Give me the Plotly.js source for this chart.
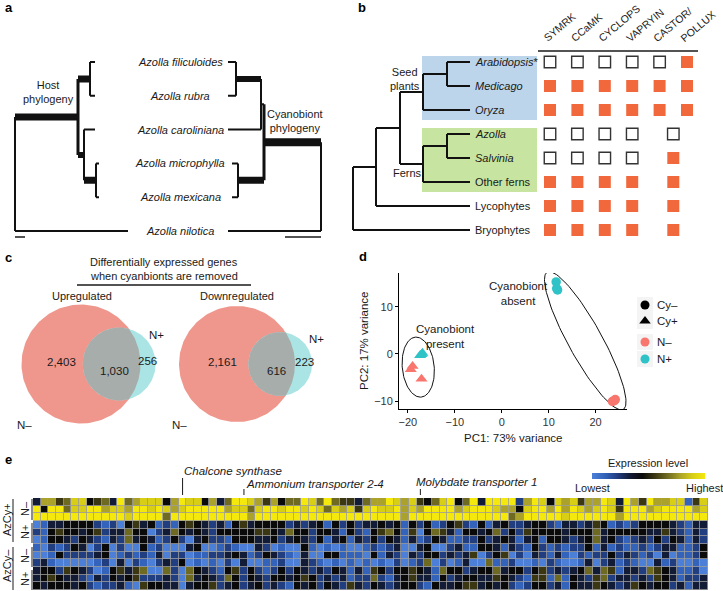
<!DOCTYPE html>
<html><head><meta charset="utf-8">
<script src="https://cdn.plot.ly/plotly-3.0.1.min.js"></script>
<style>html,body{margin:0;padding:0;background:#fff}#fig{width:723px;height:591px}</style>
</head><body><div id="fig"></div>
<script>
// ================= DATA =================
// Panel a: Azolla species, host & cyanobiont phylogenies (topology + node depths)
const azollaTaxa = ['Azolla filiculoides','Azolla rubra','Azolla caroliniana','Azolla microphylla','Azolla mexicana','Azolla nilotica'];
function leaf(i,end){return {i:i,end:end};}
const hostTree = {x:15, c:[
  {x:78, w:7, vw:3, c:[
    {x:90, w:7, c:[leaf(0,95), leaf(1,95)]},
    {x:84, w:6, c:[leaf(2,95), {x:96, w:7, c:[leaf(3,99), leaf(4,99)]}]}
  ]},
  leaf(5,128)
]};
const cyanoTree = {x:321, c:[
  {x:264, w:8, vw:3, c:[
    {x:261, w:2, c:[{x:236, w:6, c:[leaf(0,228), leaf(1,228)]}, leaf(2,228)]},
    {x:238, w:7, c:[leaf(3,232), leaf(4,232)]}
  ]},
  leaf(5,228)
]};

// Panel b: land plant lineages and symbiosis genes
const plantTaxa = ['Arabidopsis','Medicago','Oryza','Azolla','Salvinia','Other ferns','Lycophytes','Bryophytes'];
const plantItalic = [true,true,true,true,true,false,false,false];
const plantStar = [true,false,false,false,false,false,false,false];
const plantTree = {x:353, c:[
  {x:376, c:[
    {x:400, c:[
      {x:423, c:[{x:447, c:[leaf(0,470), leaf(1,470)]}, leaf(2,470)]},
      {x:423, c:[{x:447, c:[leaf(3,470), leaf(4,470)]}, leaf(5,470)]}
    ]},
    leaf(6,470)
  ]},
  leaf(7,470)
]};
const geneLabels = ['SYMRK','CCaMK','CYCLOPS','VAPRYIN','CASTOR/','POLLUX'];
const geneColumn = [0,1,2,3,4,5,4.5];   // last = merged CASTOR/POLLUX column
// 1 = present, 0 = absent, null = not shown  (SYMRK, CCaMK, CYCLOPS, VAPRYIN, CASTOR, POLLUX, CASTOR/POLLUX)
const genePresence = [
  [0,0,0,0,0,1,null],
  [1,1,1,1,1,1,null],
  [1,1,1,1,1,1,null],
  [0,0,0,0,null,null,0],
  [0,0,0,0,null,null,1],
  [1,1,1,1,null,null,1],
  [1,1,1,1,null,null,1],
  [1,1,1,1,null,null,1]
];

// Panel c: Venn counts
const vennUp   = {nMinusOnly:2403, both:1030, nPlusOnly:256};
const vennDown = {nMinusOnly:2161, both:616,  nPlusOnly:223};

// Panel d: PCA
const pcaCyMinusNPlus  = {pc1:[11.6, 11.9, 11.7],   pc2:[15.3, 13.6, 13.9]};
const pcaCyMinusNMinus = {pc1:[23.6, 24.2, 24.0],   pc2:[-10.1, -9.7, -9.9]};
const pcaCyPlusNPlus   = {pc1:[-17.4, -16.9, -17.1], pc2:[-0.3, 0.2, -0.1]};
const pcaCyPlusNMinus  = {pc1:[-19.0, -19.4, -17.1], pc2:[-2.6, -3.3, -5.3]};
// ellipses: centre (pc1,pc2), semi-axes, angle (deg)
const ellipsePresent = {cx:-17.8, cy:-2.8, a:6.4,  b:3.4, ang:95.7};
const ellipseAbsent  = {cx:17.8,  cy:2.8,  a:16.7, b:3.6, ang:119};

// Panel e: heatmap (0 = lowest/blue ... 4 = black ... 9 = highest/yellow), 12 samples x 88 genes
const heatRows = [
  '3775688456396788847988'+'4736998757466986965536'+'7798785468946939999279'+'8487857798397597788158',
  '9499688997887998987899'+'9997886899899898687858'+'9889787999978999877489'+'9797987898599978999978',
  '9999999999998999969999'+'9999997999999999999999'+'9999799999999999996799'+'9998999999799999999999',
  '0133444421204534121454'+'3231453444423234142423'+'3434142412452141342234'+'4213323541212444432133',
  '2145443452336440236434'+'3244444554364424431421'+'4564150465314434624254'+'4443444634444433532132',
  '0144324321326343124203'+'4221444334234324134132'+'4243131243112242343134'+'1443234634212324243132',
  '1021243024020041200034'+'0012100320100410101001'+'2123003400231144313214'+'2121224131211212331124',
  '0014222234012121302201'+'1223431243210300441110'+'4132032442323502450203'+'2131021224232120301124',
  '2310000012030210232401'+'0102030011200321010101'+'0102012602013006112001'+'0210013023121003120010',
  '3442543201453560062064'+'3214524212424323243131'+'5424454316442344634424'+'5232346365133265431120',
  '3454332132434522232063'+'4326424324434542323122'+'6213453314234433543215'+'5161432562332325431223',
  '4344434212231054433034'+'4523423423214342432532'+'4323442143345534342124'+'4231433543235434423133'
];
const heatGroups = [{outer:'AzCy+', inner:['N–','N+']},{outer:'AzCy–', inner:['N–','N+']}];
const geneMarks = [
  {label:'Chalcone synthase', col:19, lx:183, ly:471, t0:478},
  {label:'Ammonium transporter 2-4', col:27, lx:245, ly:484, t0:489},
  {label:'Molybdate transporter 1', col:50, lx:415, ly:482, t0:489}
];

// ================= HELPERS =================
const W=723, H=591;
const F='Liberation Sans, Arial, Helvetica, sans-serif';
const INK='#1a1a1a';
const px=x=>x/W, py=y=>1-y/H;
const traces=[], shapes=[], annotations=[];
function txt(text,x,y,o){
  o=o||{};
  const font=Object.assign({family:F,size:11,color:INK},o.font||{});
  const a=Object.assign({text:text,x:px(x),y:py(y),xref:'paper',yref:'paper',showarrow:false,xanchor:'center',yanchor:'middle',borderpad:0},o);
  a.font=font; annotations.push(a);
}
function lineP(x0,y0,x1,y1,w,c){shapes.push({type:'line',xref:'paper',yref:'paper',x0:px(x0),y0:py(y0),x1:px(x1),y1:py(y1),line:{color:c||INK,width:w||1}});}

function nY(n){return n.i!==undefined? n.i : (nY(n.c[0])+nY(n.c[n.c.length-1]))/2;}
function segs(n,out){
  if(n.i!==undefined) return out;
  const ys=n.c.map(nY);
  out.push({x0:n.x,x1:n.x,y0:Math.min.apply(null,ys),y1:Math.max.apply(null,ys),w:n.vw||2});
  n.c.forEach(function(c,k){
    out.push({x0:n.x,x1:(c.i!==undefined?c.end:c.x),y0:ys[k],y1:ys[k],w:c.w||2});
    segs(c,out);
  });
  return out;
}
function addTree(tree,xa,ya){
  const s=segs(tree,[]); const byW={};
  s.forEach(g=>{(byW[g.w]=byW[g.w]||[]).push(g);});
  Object.keys(byW).forEach(w=>{
    const xs=[],ys=[];
    byW[w].forEach(g=>{xs.push(g.x0,g.x1,null);ys.push(g.y0,g.y1,null);});
    traces.push({type:'scatter',mode:'lines',x:xs,y:ys,xaxis:xa,yaxis:ya,line:{color:'#111',width:+w},hoverinfo:'skip',showlegend:false});
  });
}

// ================= PANEL a =================
addTree(hostTree,'x','y');
addTree(cyanoTree,'x','y');
azollaTaxa.forEach((t,i)=>annotations.push({text:'<i>'+t+'</i>',x:180,y:i,xref:'x',yref:'y',showarrow:false,font:{family:F,size:11,color:INK},xanchor:'center',yanchor:'middle'}));
shapes.push({type:'line',xref:'x',yref:'y',x0:15,x1:25,y0:5.18,y1:5.18,line:{color:INK,width:1.5}});
shapes.push({type:'line',xref:'x',yref:'y',x0:285,x1:321,y0:5.18,y1:5.18,line:{color:INK,width:1.5}});
txt('Host<br>phylogeny',48,92);
txt('Cyanobiont<br>phylogeny',295,121);

// ================= PANEL b =================
const GRID_D=[538,698], GRID_R=[-12/27.4,5+11/27.4];
const colPx = c => GRID_D[0] + (c-GRID_R[0])/(GRID_R[1]-GRID_R[0])*(GRID_D[1]-GRID_D[0]);
shapes.push({type:'rect',xref:'x2',yref:'y2',x0:422,x1:537,y0:-0.25,y1:2.42,fillcolor:'#bcd5eb',line:{width:0},layer:'below'});
shapes.push({type:'rect',xref:'x2',yref:'y2',x0:422,x1:537,y0:2.75,y1:5.42,fillcolor:'#c7e5a1',line:{width:0},layer:'below'});
addTree(plantTree,'x2','y2');
plantTaxa.forEach((t,i)=>{
  let s = plantItalic[i]? '<i>'+t+'</i>' : t;
  if(plantStar[i]) s+='*';
  annotations.push({text:s,x:473,y:i,xref:'x2',yref:'y2',showarrow:false,font:{family:F,size:11,color:INK},xanchor:'left',yanchor:'middle'});
});
txt('Seed<br>plants',405,79);
txt('Ferns',407,173);
(function(){
  const fx=[],fy=[],hx=[],hy=[];
  genePresence.forEach((row,i)=>row.forEach((v,j)=>{
    if(v===null) return;
    if(v===1){fx.push(geneColumn[j]);fy.push(i);} else {hx.push(geneColumn[j]);hy.push(i);}
  }));
  traces.push({type:'scatter',mode:'markers',x:fx,y:fy,xaxis:'x3',yaxis:'y2',marker:{symbol:'square',size:12,color:'#f1683c',line:{width:0}},hoverinfo:'skip',showlegend:false});
  traces.push({type:'scatter',mode:'markers',x:hx,y:hy,xaxis:'x3',yaxis:'y2',marker:{symbol:'square',size:11.5,color:'#ffffff',line:{width:1.4,color:'#333'}},hoverinfo:'skip',showlegend:false});
})();
geneLabels.forEach((g,j)=>annotations.push({text:g,x:px(colPx(geneColumn[j])-10),y:py(45),xref:'paper',yref:'paper',showarrow:false,textangle:-40,xanchor:'left',yanchor:'bottom',borderpad:0,font:{family:F,size:10.5,color:INK}}));
lineP(538,51,698,51,1.5);

// ================= PANEL c =================
txt('Differentially expressed genes',164,262);
txt('when cyanbionts are removed',164,276);
lineP(77,285,251,285,1.3);
txt('Upregulated',82,296);
txt('Downregulated',237,296);
function lensArea(R,r,d){
  if(d>=R+r) return 0;
  if(d<=Math.abs(R-r)) return Math.PI*Math.min(R,r)**2;
  const a1=r*r*Math.acos((d*d+r*r-R*R)/(2*d*r));
  const a2=R*R*Math.acos((d*d+R*R-r*r)/(2*d*R));
  const a3=0.5*Math.sqrt((-d+r+R)*(d+r-R)*(d-r+R)*(d+r+R));
  return a1+a2-a3;
}
function venn(v,cx,cy,R,labels){
  const nMinus=v.nMinusOnly+v.both, nPlus=v.nPlusOnly+v.both;
  const r=R*Math.sqrt(nPlus/nMinus);
  const target=v.both/nMinus*Math.PI*R*R;
  let lo=Math.abs(R-r)+1e-6, hi=R+r-1e-6;
  for(let k=0;k<80;k++){const m=(lo+hi)/2; if(lensArea(R,r,m)>target) lo=m; else hi=m;}
  const d=(lo+hi)/2;
  const N=180;
  function circ(x0,y0,rr){const xs=[],ys=[];for(let k=0;k<=N;k++){const t=2*Math.PI*k/N;xs.push(x0+rr*Math.cos(t));ys.push(y0+rr*Math.sin(t));}return [xs,ys];}
  const c1=circ(cx,cy,R), c2=circ(cx+d,cy,r);
  traces.push({type:'scatter',mode:'lines',x:c1[0],y:c1[1],xaxis:'x4',yaxis:'y4',fill:'toself',fillcolor:'#ef978c',line:{width:0,color:'rgba(0,0,0,0)'},hoverinfo:'skip',showlegend:false});
  traces.push({type:'scatter',mode:'lines',x:c2[0],y:c2[1],xaxis:'x4',yaxis:'y4',fill:'toself',fillcolor:'#abe4e4',line:{width:0,color:'rgba(0,0,0,0)'},hoverinfo:'skip',showlegend:false});
  const a=(d*d+R*R-r*r)/(2*d), h=Math.sqrt(R*R-a*a);
  const t1=Math.atan2(h,a), t2=Math.atan2(h,d-a);
  const lx=[],ly=[];
  for(let k=0;k<=60;k++){const t=-t1+2*t1*k/60;lx.push(cx+R*Math.cos(t));ly.push(cy+R*Math.sin(t));}
  for(let k=0;k<=60;k++){const t=Math.PI-t2+2*t2*k/60;lx.push(cx+d+r*Math.cos(t));ly.push(cy+r*Math.sin(t));}
  traces.push({type:'scatter',mode:'lines',x:lx,y:ly,xaxis:'x4',yaxis:'y4',fill:'toself',fillcolor:'#a7adaa',line:{width:0,color:'rgba(0,0,0,0)'},hoverinfo:'skip',showlegend:false});
  const fmt=n=>n.toLocaleString('en-US');
  txt(fmt(v.nMinusOnly),labels.m[0],labels.m[1],{font:{size:11.5}});
  txt(fmt(v.both),labels.b[0],labels.b[1],{font:{size:11.5}});
  txt(fmt(v.nPlusOnly),labels.p[0],labels.p[1],{font:{size:11.5}});
  txt('N+',labels.np[0],labels.np[1],{font:{size:11.5}});
  txt('N–',labels.nm[0],labels.nm[1],{font:{size:11.5}});
}
venn(vennUp,81,364,59.5,{m:[61,362],b:[114,371],p:[147,361],np:[156,335],nm:[24,425]});
venn(vennDown,237,364,58,{m:[222,362],b:[276,371],p:[304,362],np:[316,339],nm:[179,425]});

// ================= PANEL d =================
const RED='#F8766D', CYAN='#2fc3c7';
function ell(e){const xs=[],ys=[],th=e.ang*Math.PI/180;for(let k=0;k<=120;k++){const t=2*Math.PI*k/120;const u=e.a*Math.cos(t),v=e.b*Math.sin(t);xs.push(e.cx+u*Math.cos(th)-v*Math.sin(th));ys.push(e.cy+u*Math.sin(th)+v*Math.cos(th));}return {xs,ys};}
[ellipsePresent,ellipseAbsent].forEach(e=>{const p=ell(e);traces.push({type:'scatter',mode:'lines',x:p.xs,y:p.ys,xaxis:'x5',yaxis:'y5',line:{color:'#111',width:1},hoverinfo:'skip',showlegend:false,cliponaxis:false});});
function pts(d,sym,col){traces.push({type:'scatter',mode:'markers',x:d.pc1,y:d.pc2,xaxis:'x5',yaxis:'y5',marker:{symbol:sym,size:sym==='circle'?9.5:10.5,color:col,line:{width:0}},hoverinfo:'skip',showlegend:false,cliponaxis:false});}
pts(pcaCyMinusNPlus,'circle',CYAN);
pts(pcaCyMinusNMinus,'circle',RED);
pts(pcaCyPlusNPlus,'triangle-up',CYAN);
pts(pcaCyPlusNMinus,'triangle-up',RED);
txt('PC1: 73% variance',513,438,{font:{size:11.5}});
txt('PC2: 17% variance',364,341,{textangle:-90,font:{size:11.5}});
txt('Cyanobiont<br>present',445,336,{font:{size:11.5}});
txt('Cyanobiont<br>absent',518,294,{font:{size:11.5}});
const legendItems=[{label:'Cy–',sym:'circle',col:'#000',y:305},{label:'Cy+',sym:'triangle-up',col:'#000',y:321},{label:'N–',sym:'circle',col:RED,y:342},{label:'N+',sym:'circle',col:CYAN,y:359}];
legendItems.forEach(it=>{
  shapes.push({type:'rect',xref:'x6',yref:'y6',x0:637,x1:653,y0:it.y-8,y1:it.y+8,fillcolor:'#f4f4f4',line:{width:0},layer:'below'});
  traces.push({type:'scatter',mode:'markers',x:[645],y:[it.y],xaxis:'x6',yaxis:'y6',marker:{symbol:it.sym,size:it.sym==='circle'?9:10,color:it.col},hoverinfo:'skip',showlegend:false});
  txt(it.label,656,it.y,{xanchor:'left',font:{size:11.5}});
});

// ================= PANEL e =================
const heatZ = heatRows.map(r=>r.split('').map(Number));
shapes.push({type:'rect',xref:'x7',yref:'y7',x0:-0.5,x1:87.5,y0:-0.5,y1:11.5,fillcolor:'#9d9d9d',line:{width:0},layer:'below'});
traces.push({type:'heatmap',z:heatZ,xaxis:'x7',yaxis:'y7',zmin:0,zmax:9,xgap:0.8,ygap:0.8,hoverinfo:'skip',
  colorscale:[[0,'#4c80d8'],[1/9,'#3463bb'],[2/9,'#213e80'],[3/9,'#131c37'],[4/9,'#0a0a0a'],[5/9,'#3b3713'],[6/9,'#6f6a22'],[7/9,'#aaa22a'],[8/9,'#d8ce16'],[1,'#f4e80c']],
  colorbar:{orientation:'h',x:px(648.5),xanchor:'center',y:py(472.5),yanchor:'top',len:113,lenmode:'pixels',thickness:6,thicknessmode:'pixels',outlinewidth:0,showticklabels:false,ticks:'',xpad:0,ypad:0}
});
txt('Expression level',648,463);
txt('Lowest',592,488);
txt('Highest',704,488);
geneMarks.forEach(g=>{
  shapes.push({type:'line',xref:'x7',yref:'paper',x0:g.col,x1:g.col,y0:py(g.t0),y1:py(495),line:{color:INK,width:1}});
  txt('<i>'+g.label+'</i>',g.lx,g.ly,{xanchor:'left',font:{size:11.5}});
});
txt('AzCy+',7,520,{textangle:-90});
txt('AzCy–',7,566,{textangle:-90});
[[509,'N–'],[532,'N+'],[556,'N–'],[579,'N+']].forEach(p=>txt(p[1],25,p[0],{textangle:-90}));
lineP(13,499,13,542,1); lineP(13,547,13,590,1);
lineP(32,499,32,520,1); lineP(32,523,32,543,1); lineP(32,547,32,567,1); lineP(32,570,32,590,1);

[['a',4,8],['b',357,8],['c',4,257],['d',358,256],['e',4,459]].forEach(l=>txt('<b>'+l[0]+'</b>',l[1],l[2],{xanchor:'left',font:{size:13,color:'#000'}}));

// ================= LAYOUT =================
const hid={visible:false,fixedrange:true,automargin:false};
const layout={
  width:W,height:H,margin:{l:0,r:0,t:0,b:0},paper_bgcolor:'#fff',plot_bgcolor:'rgba(0,0,0,0)',showlegend:false,
  font:{family:F,size:11,color:INK},
  xaxis:Object.assign({domain:[0,px(345)],range:[0,345],anchor:'y'},hid),
  yaxis:Object.assign({domain:[py(251.3),py(41.7)],range:[5.6,-0.6],anchor:'x'},hid),
  xaxis2:Object.assign({domain:[px(345),1],range:[345,723],anchor:'y2'},hid),
  yaxis2:Object.assign({domain:[py(254),py(38)],range:[8,-1],anchor:'x2'},hid),
  xaxis3:Object.assign({domain:[px(GRID_D[0]),px(GRID_D[1])],range:GRID_R,anchor:'y2'},hid),
  xaxis4:Object.assign({domain:[0,px(340)],range:[0,340],anchor:'y4'},hid),
  yaxis4:Object.assign({domain:[py(440),py(290)],range:[440,290],anchor:'x4'},hid),
  xaxis5:{domain:[px(399),px(627)],range:[-21.9,26.7],anchor:'y5',showline:true,linecolor:'#000',linewidth:1,ticks:'outside',ticklen:3,tickcolor:'#000',tickwidth:1,
    tickmode:'linear',tick0:0,dtick:10,showgrid:false,zeroline:false,tickfont:{family:F,size:11,color:'#333'},fixedrange:true,automargin:false},
  yaxis5:{domain:[py(409),py(273)],range:[-11.7,17.2],anchor:'x5',showline:true,linecolor:'#000',linewidth:1,ticks:'outside',ticklen:3,tickcolor:'#000',tickwidth:1,
    tickmode:'linear',tick0:0,dtick:10,showgrid:false,zeroline:false,tickfont:{family:F,size:11,color:'#333'},fixedrange:true,automargin:false},
  xaxis6:Object.assign({domain:[px(630),px(700)],range:[630,700],anchor:'y6'},hid),
  yaxis6:Object.assign({domain:[py(372),py(295)],range:[372,295],anchor:'x6'},hid),
  xaxis7:Object.assign({domain:[px(33),px(708)],range:[-0.5,87.5],anchor:'y7'},hid),
  yaxis7:Object.assign({domain:[py(590),py(498)],range:[11.5,-0.5],anchor:'x7'},hid),
  shapes:shapes,annotations:annotations
};
Plotly.newPlot('fig',traces,layout,{displayModeBar:false,staticPlot:true});
</script>
</body></html>
